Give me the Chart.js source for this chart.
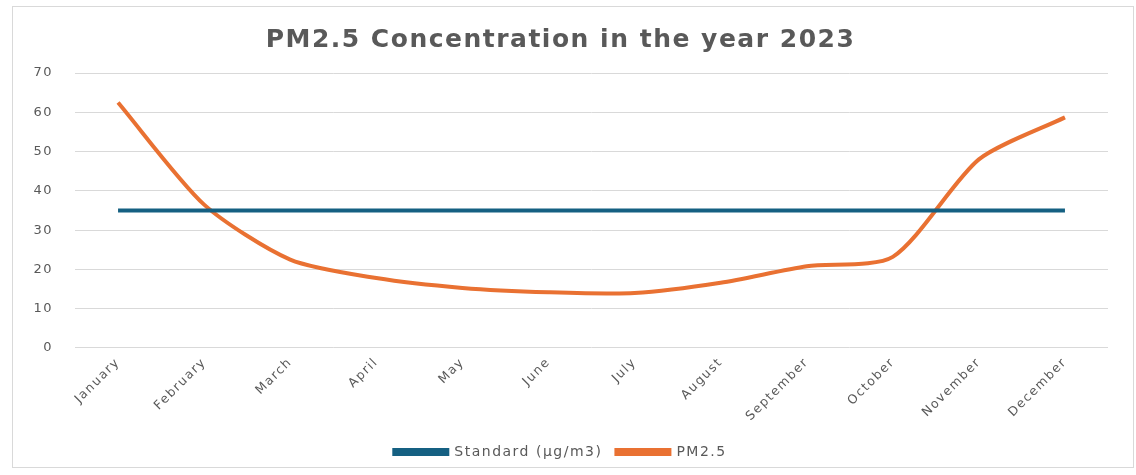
<!DOCTYPE html>
<html>
<head>
<meta charset="utf-8">
<script src="https://cdn.jsdelivr.net/npm/chart.js@4/dist/chart.umd.min.js"></script>
<style>
  html, body { margin: 0; padding: 0; background: #fff; }
  #box {
    position: absolute; left: 12px; top: 6px;
    width: 1122px; height: 462px;
    border: 1px solid #d9d9d9; box-sizing: border-box;
  }
</style>
</head>
<body>
<div id="box"><canvas id="pmChart"></canvas></div>
<script>
// données
const months = ['January', 'February', 'March', 'April', 'May', 'June',
  'July', 'August', 'September', 'October', 'November', 'December'];
const standardValues = [35, 35, 35, 35, 35, 35, 35, 35, 35, 35, 35, 35];
const pm25Values = [62.5, 36.5, 22.5, 17.8, 15.3, 14.2, 14.0, 16.6, 20.8, 23.2, 48, 58.7];
const yTicks = [0, 10, 20, 30, 40, 50, 60, 70];

const gray = '#595959';

// le texte de l'original est assez espacé : on ajoute un peu d'interlettrage
const spacingPlugin = {
  id: 'spacing',
  beforeUpdate(chart) { chart.ctx.letterSpacing = '1.5px'; },
  beforeDraw(chart) { chart.ctx.letterSpacing = '1.5px'; },
};

const ctx = document.getElementById('pmChart').getContext('2d');
new Chart(ctx, {
  type: 'line',
  data: {
    labels: months,
    datasets: [
      {
        label: 'Standard (µg/m3)',
        data: standardValues,
        borderColor: '#156082',
        backgroundColor: '#156082',
        borderWidth: 4,
        pointRadius: 0,
        tension: 0,
      },
      {
        label: 'PM2.5',
        data: pm25Values,
        borderColor: '#E97132',
        backgroundColor: '#E97132',
        borderWidth: 4,
        pointRadius: 0,
        tension: 0.25,
      },
    ],
  },
  plugins: [spacingPlugin],
  options: {
    responsive: true,
    maintainAspectRatio: false,
    animation: false,
    layout: { padding: { left: 0, right: 25, top: 8, bottom: -2 } },
    plugins: {
      title: {
        display: true,
        text: 'PM2.5 Concentration in the year 2023',
        color: gray,
        font: { family: 'DejaVu Sans', size: 25, weight: 'bold' },
        padding: { top: 10, bottom: 18 },
      },
      legend: {
        display: true,
        position: 'bottom',
        labels: {
          color: gray,
          font: { family: 'DejaVu Sans', size: 14 },
          boxWidth: 53,
          boxHeight: 4,
          padding: 14,
        },
      },
      tooltip: { enabled: false },
    },
    scales: {
      x: {
        offset: true,
        grid: { display: false, drawTicks: false },
        border: { display: false },
        // les étiquettes pivotées n'ont pas besoin de marge en plus
        afterFit: axis => { axis.paddingLeft = 0; axis.paddingRight = 0; },
        ticks: {
          color: gray,
          font: { family: 'DejaVu Sans', size: 12.5 },
          minRotation: 45,
          maxRotation: 45,
          padding: 7,
        },
      },
      y: {
        min: 0,
        max: 70,
        afterBuildTicks: axis => { axis.ticks = yTicks.map(v => ({ value: v })); },
        afterFit: axis => { axis.width = 62; },
        grid: { color: '#d9d9d9', lineWidth: 1, drawTicks: false },
        border: { display: false },
        ticks: {
          color: gray,
          font: { family: 'DejaVu Sans', size: 13 },
          padding: 22,
        },
      },
    },
  },
});
</script>
</body>
</html>
